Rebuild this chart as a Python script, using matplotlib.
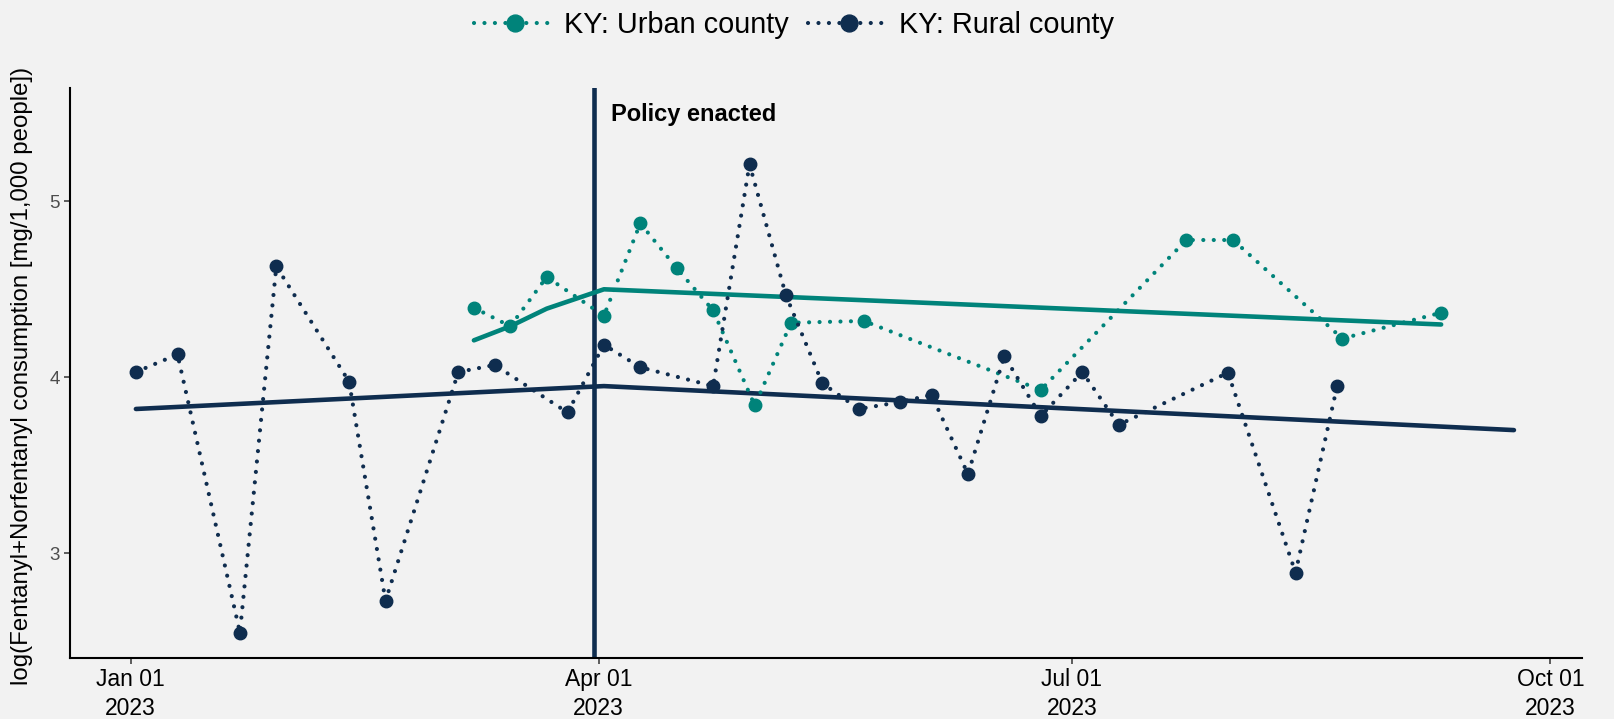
import matplotlib
matplotlib.use("Agg")
import matplotlib.pyplot as plt
import matplotlib.dates as mdates
import numpy as np

plt.rcParams['font.family'] = ['Liberation Sans', 'DejaVu Sans']

# 数据: 每周的测量值
rural_dates = ['2023-01-02', '2023-01-10', '2023-01-22', '2023-01-29', '2023-02-12',
               '2023-02-19', '2023-03-05', '2023-03-12', '2023-03-26', '2023-04-02',
               '2023-04-09', '2023-04-23', '2023-04-30', '2023-05-07', '2023-05-14',
               '2023-05-21', '2023-05-29', '2023-06-04', '2023-06-11', '2023-06-18',
               '2023-06-25', '2023-07-03', '2023-07-10', '2023-07-31', '2023-08-13',
               '2023-08-21']
rural_vals = [4.03, 4.13, 2.55, 4.63, 3.975, 2.73, 4.03, 4.07, 3.80, 4.185,
              4.057, 3.95, 5.21, 4.466, 3.966, 3.82, 3.86, 3.90, 3.45, 4.12,
              3.78, 4.03, 3.73, 4.026, 2.89, 3.95]

urban_dates = ['2023-03-08', '2023-03-15', '2023-03-22', '2023-04-02', '2023-04-09',
               '2023-04-16', '2023-04-23', '2023-05-01', '2023-05-08', '2023-05-22',
               '2023-06-25', '2023-07-23', '2023-08-01', '2023-08-22', '2023-09-10']
urban_vals = [4.395, 4.29, 4.57, 4.35, 4.875, 4.62, 4.38, 3.84, 4.31, 4.32,
              3.928, 4.78, 4.78, 4.22, 4.367]

# 分段趋势
urban_trend_dates = ['2023-03-08', '2023-03-15', '2023-03-22', '2023-04-02', '2023-09-10']
urban_trend_vals = [4.21, 4.29, 4.39, 4.50, 4.30]
rural_trend_dates = ['2023-01-02', '2023-04-02', '2023-09-24']
rural_trend_vals = [3.82, 3.95, 3.70]

policy_date = '2023-03-31'
x_ticks = ['2023-01-01', '2023-04-01', '2023-07-01', '2023-10-01']
y_ticks = [3, 4, 5]

teal = '#00837A'
navy = '#0F2D4F'
bg = '#F2F2F2'


def d(lst):
    return np.array(lst, dtype='datetime64[D]')


fig = plt.figure(figsize=(16.15, 7.19), dpi=100, facecolor=bg)
ax = fig.add_axes([0.0431, 0.0848, 0.9365, 0.7924])
ax.set_facecolor(bg)

ax.axvline(d([policy_date])[0], color=navy, lw=3.3, zorder=1)

dots = (0, (0.01, 2.5))
ax.plot(d(urban_dates), urban_vals, color=teal, lw=3.0, ls=dots,
        dash_capstyle='round', marker='o', ms=9, label='KY: Urban county', zorder=3)
ax.plot(d(rural_dates), rural_vals, color=navy, lw=3.0, ls=dots,
        dash_capstyle='round', marker='o', ms=9, label='KY: Rural county', zorder=3)

ax.plot(d(urban_trend_dates), urban_trend_vals, color=teal, lw=3.3,
        solid_capstyle='round', zorder=2)
ax.plot(d(rural_trend_dates), rural_trend_vals, color=navy, lw=3.3,
        solid_capstyle='round', zorder=2)

ax.annotate('Policy enacted', xy=(d([policy_date])[0], 1),
            xycoords=('data', 'axes fraction'), xytext=(12.5, -10.5),
            textcoords='offset points', ha='left', va='top',
            fontsize=17, fontweight='bold', color='black')

x0 = mdates.date2num(np.datetime64('2023-01-01')) - 11.75
x1 = mdates.date2num(np.datetime64('2023-01-01')) + 279.1
ax.set_xlim(x0, x1)
ax.set_ylim(2.405, 5.642)

ax.set_xticks(d(x_ticks))
ax.xaxis.set_major_formatter(mdates.DateFormatter('%b %d\n%Y'))
ax.set_yticks(y_ticks)

ax.tick_params(axis='x', labelsize=16.5, length=4.3, width=1.1, color='#333333',
               labelcolor='black', pad=3)
ax.tick_params(axis='y', labelsize=13.5, length=4, width=1.1, color='#333333',
               labelcolor='#4D4D4D', pad=3)
for lab in ax.get_xticklabels():
    lab.set_linespacing(1.3)

for s in ['top', 'right']:
    ax.spines[s].set_visible(False)
for s in ['left', 'bottom']:
    ax.spines[s].set_linewidth(1.5)
    ax.spines[s].set_color('black')

ax.set_ylabel('log(Fentanyl+Norfentanyl consumption [mg/1,000 people])', fontsize=17.3)
ax.yaxis.set_label_coords(-0.0242, 0.495)

fig.legend(loc='center', bbox_to_anchor=(0.4914, 0.965), ncol=2, frameon=False,
           fontsize=20.8, handlelength=2.84, handletextpad=0.3, columnspacing=0.65,
           numpoints=1, markerscale=1.35)

fig.savefig('out.png', dpi=100, facecolor=bg)
